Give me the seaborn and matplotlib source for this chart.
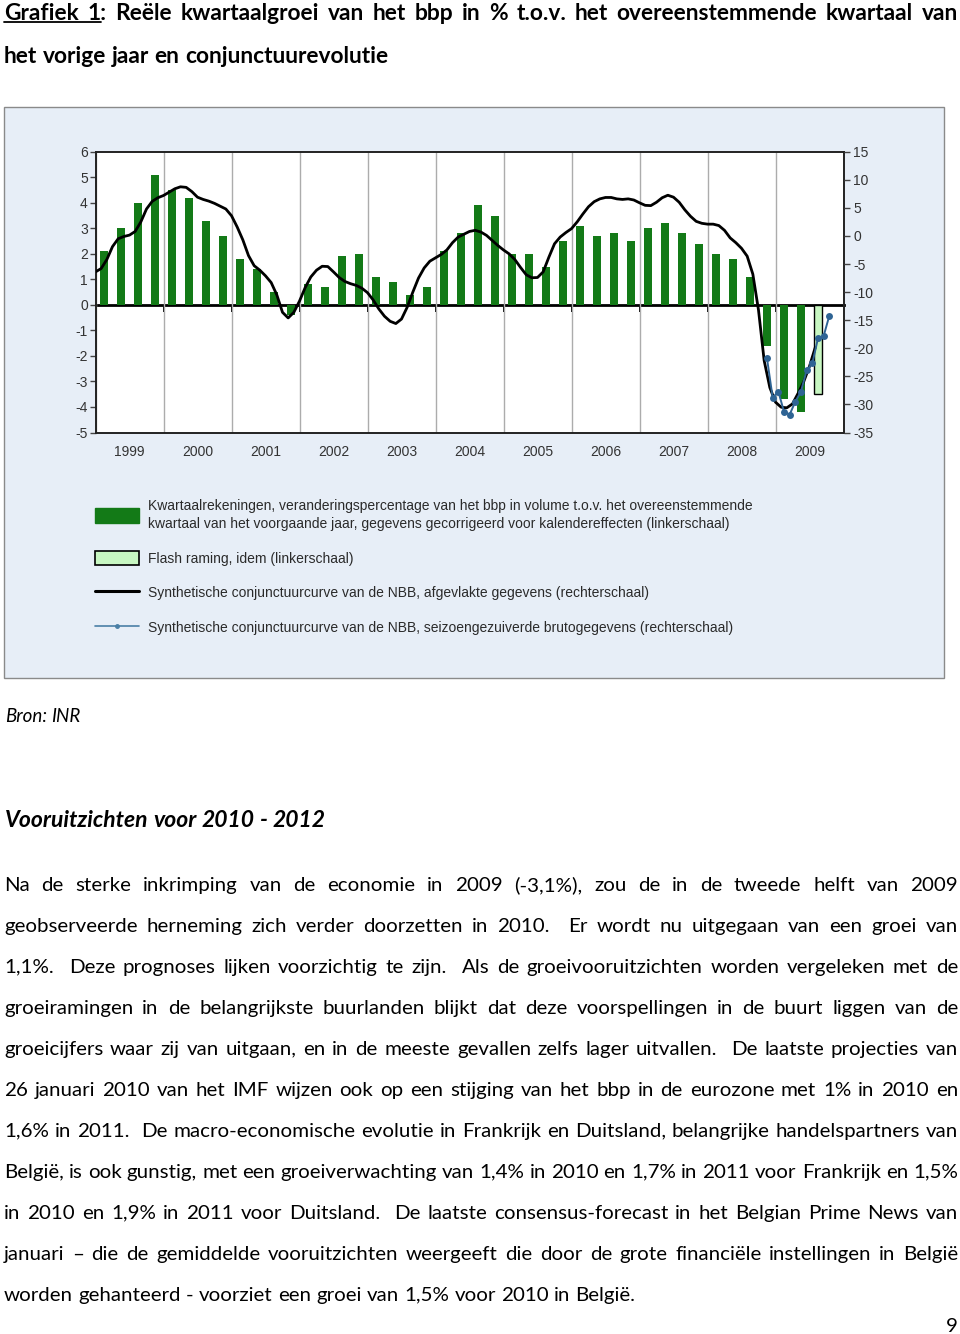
import re
import numpy as np
import pandas as pd
import matplotlib
matplotlib.use("Agg")
import matplotlib.pyplot as plt
import seaborn as sns
from matplotlib.patches import Rectangle, Patch
from matplotlib.lines import Line2D

# ---------------- data ----------------
first_year = 1999
year_labels = [str(y) for y in range(1999, 2010)]
# Kwartaalrekeningen, % y/y (linkerschaal), 1999Q1 .. 2009Q2
gdp_growth = [2.1, 3.0, 4.0, 5.1,
              4.5, 4.2, 3.3, 2.7,
              1.8, 1.4, 0.5, -0.4,
              0.8, 0.7, 1.9, 2.0,
              1.1, 0.9, 0.4, 0.7,
              2.1, 2.8, 3.9, 3.5,
              2.0, 2.0, 1.5, 2.5,
              3.1, 2.7, 2.8, 2.5,
              3.0, 3.2, 2.8, 2.4,
              2.0, 1.8, 1.1, -1.6,
              -3.7, -4.2]
# Flash raming 2009Q3
flash_growth = [-3.5]
# Synthetische conjunctuurcurve, afgevlakt (rechterschaal), monthly from Jan 1999
smooth_curve = [-6.4, -5.8, -4.2, -1.9, -0.5, -0.1, 0.15, 0.8, 2.5, 4.8, 6.15, 6.8,
                7.2, 7.8, 8.4, 8.75, 8.65, 7.9, 6.9, 6.5, 6.2, 5.8, 5.3, 4.8,
                3.6, 1.6, -0.7, -3.5, -5.3, -6.1, -7.1, -8.3, -10.5, -13.6, -14.6, -13.6,
                -11.6, -9.2, -7.3, -6.1, -5.4, -5.45, -6.4, -7.4, -8.1, -8.5, -8.8, -9.3,
                -10.1, -11.4, -13.0, -14.3, -15.2, -15.6, -14.8, -12.7, -10.0, -7.5, -5.7, -4.5,
                -3.9, -3.3, -2.5, -1.2, -0.2, 0.3, 0.8, 1.0, 0.7, 0.1, -0.8, -1.7,
                -2.5, -3.2, -4.2, -5.6, -6.9, -7.45, -7.4, -6.4, -3.8, -1.4, -0.2, 0.6,
                1.3, 2.5, 3.9, 5.2, 6.1, 6.6, 6.85, 6.85, 6.6, 6.5, 6.6, 6.4,
                5.9, 5.45, 5.4, 6.0, 6.8, 7.25, 6.9, 6.0, 4.65, 3.5, 2.6, 2.25,
                2.1, 2.1, 1.85, 1.0, -0.35, -1.2, -2.2, -3.6, -6.8, -13.2, -22.2, -27.0,
                -29.6, -30.5, -30.6, -29.9, -28.0, -25.9, -23.2, -19.9]
# Synthetische conjunctuurcurve, seizoengezuiverde brutogegevens, Nov 2008 .. Oct 2009
raw_curve = [-21.8, -28.8, -27.7, -31.3, -31.8, -29.5, -27.7, -23.9, -22.7, -18.2, -17.8, -14.2]
raw_start_month = 10  # November 2008 (0 = January)

legend_labels = [
    "Kwartaalrekeningen, veranderingspercentage van het bbp in volume t.o.v. het overeenstemmende\n"
    "kwartaal van het voorgaande jaar, gegevens gecorrigeerd voor kalendereffecten (linkerschaal)",
    "Flash raming, idem (linkerschaal)",
    "Synthetische conjunctuurcurve van de NBB, afgevlakte gegevens (rechterschaal)",
    "Synthetische conjunctuurcurve van de NBB, seizoengezuiverde brutogegevens (rechterschaal)",
]

title_lines = ["Grafiek 1: Reële kwartaalgroei van het bbp in % t.o.v. het overeenstemmende kwartaal van",
               "het vorige jaar en conjunctuurevolutie"]
source_text = "Bron: INR"
section_title = "Vooruitzichten voor 2010 - 2012"
body_lines = [
    "Na de sterke inkrimping van de economie in 2009 (-3,1%), zou de in de tweede helft van 2009",
    "geobserveerde herneming zich verder doorzetten in 2010.  Er wordt nu uitgegaan van een groei van",
    "1,1%.  Deze prognoses lijken voorzichtig te zijn.  Als de groeivooruitzichten worden vergeleken met de",
    "groeiramingen in de belangrijkste buurlanden blijkt dat deze voorspellingen in de buurt liggen van de",
    "groeicijfers waar zij van uitgaan, en in de meeste gevallen zelfs lager uitvallen.  De laatste projecties van",
    "26 januari 2010 van het IMF wijzen ook op een stijging van het bbp in de eurozone met 1% in 2010 en",
    "1,6% in 2011.  De macro-economische evolutie in Frankrijk en Duitsland, belangrijke handelspartners van",
    "België, is ook gunstig, met een groeiverwachting van 1,4% in 2010 en 1,7% in 2011 voor Frankrijk en 1,5%",
    "in 2010 en 1,9% in 2011 voor Duitsland.  De laatste consensus-forecast in het Belgian Prime News van",
    "januari – die de gemiddelde vooruitzichten weergeeft die door de grote financiële instellingen in België",
    "worden gehanteerd - voorziet een groei van 1,5% voor 2010 in België.",
]
page_number = "9"

# ---------------- style ----------------
sns.set_theme(style="ticks")
plt.rcParams["font.family"] = ["Liberation Sans", "DejaVu Sans"]
plt.rcParams["axes.unicode_minus"] = False

W, H = 960, 1334
fig = plt.figure(figsize=(W / 100, H / 100), dpi=100)
fig.patch.set_facecolor("white")


def fx(x):
    return x / W


def fy(y):
    return 1 - y / H


renderer = fig.canvas.get_renderer()
PAGE_FONT = ["Lato", "DejaVu Sans"]


def measure(s, size, **kw):
    t = fig.text(0, 0, s, fontsize=size, family=PAGE_FONT, **kw)
    w = t.get_window_extent(renderer).width
    t.remove()
    return w


def place_line(line, y, x0, x1, size, justify=True, **kw):
    parts = re.split(r"( +)", line)
    words = parts[0::2]
    gaps = [len(s) for s in parts[1::2]]
    objs = [fig.text(fx(x0), fy(y), w, fontsize=size, family=PAGE_FONT,
                     va="baseline", ha="left", color="black", **kw) for w in words]
    ws = [o.get_window_extent(renderer).width for o in objs]
    if justify and gaps:
        unit = (x1 - x0 - sum(ws)) / sum(gaps)
    else:
        unit = measure("n n", size, **kw) - measure("nn", size, **kw)
    x = x0
    pos = []
    for i, o in enumerate(objs):
        o.set_x(fx(x))
        pos.append(x)
        x += ws[i] + (unit * gaps[i] if i < len(gaps) else 0)
    return objs, pos, ws


# ---------------- page text ----------------
title_size = 15 * 388 / measure(title_lines[1], 15, weight="bold")
objs, pos, ws = place_line(title_lines[0], 19.5, 4, 958, title_size, True, weight="bold")
w1 = measure("1", title_size, weight="bold")
fig.add_artist(Line2D([fx(pos[0]), fx(pos[1] + w1)], [fy(22.3), fy(22.3)],
                      transform=fig.transFigure, color="black", lw=1.3))
place_line(title_lines[1], 62.7, 4, 958, title_size, False, weight="bold")

body_size = 14 * 633 / measure(body_lines[-1], 14)
src_size = 14 * 76 / measure(source_text, 14, style="italic")
place_line(source_text, 722.3, 5, 958, src_size, False, style="italic")
sec_size = 16 * 321 / measure(section_title, 16, weight="bold", style="italic")
place_line(section_title, 826.7, 5, 958, sec_size, False, weight="bold", style="italic")
for i, ln in enumerate(body_lines):
    place_line(ln, 890.7 + 41 * i, 4, 958, body_size, i < len(body_lines) - 1)
fig.text(fx(958), fy(1331.5), page_number, fontsize=body_size, family=PAGE_FONT,
         ha="right", va="baseline", color="black")

# ---------------- chart panel ----------------
fig.add_artist(Rectangle((fx(4), fy(678)), (944 - 4) / W, (678 - 107) / H,
                         transform=fig.transFigure, facecolor="#e7eef7",
                         edgecolor="#8a8a8a", lw=1.0, zorder=-5))

ax = fig.add_axes([fx(95.5), fy(432.5), (843.5 - 95.5) / W, (432.5 - 151.7) / H])
ax.set_facecolor("white")

n = len(gdp_growth)
bar_df = pd.DataFrame({
    "pos": list(first_year + (np.arange(n) + 0.5) / 4)
           + list(first_year + (n + np.arange(len(flash_growth)) + 0.5) / 4),
    "value": gdp_growth + flash_growth,
    "kind": ["kwartaal"] * n + ["flash"] * len(flash_growth),
})
GREEN = "#137a17"
FLASH = "#c8f7c2"
sns.barplot(data=bar_df, x="pos", y="value", hue="kind", native_scale=True,
            palette={"kwartaal": GREEN, "flash": FLASH}, dodge=False, width=0.43,
            errorbar=None, saturation=1, legend=False, linewidth=0, ax=ax, zorder=2)
for cont in ax.containers:
    for p in cont.patches:
        if np.isclose(p.get_x() + p.get_width() / 2, bar_df["pos"].iloc[-1]):
            p.set_edgecolor("black")
            p.set_linewidth(1.0)

TICK_FS = 10
ax.set_xlim(1999, 2010)
ax.set_ylim(-5, 6)
ax.set_yticks(range(-5, 7))
ax.set_xticks(np.arange(1999, 2011))
ax.set_xticklabels([])
ax.set_xticks(np.arange(1999.5, 2010, 1), minor=True)
ax.set_xticklabels(year_labels, minor=True)
ax.tick_params(axis="x", which="both", length=0, labelsize=TICK_FS, labelcolor="#333333")
ax.tick_params(axis="x", which="minor", pad=9)
ax.tick_params(axis="y", direction="out", length=4, width=1, pad=1.5, labelsize=TICK_FS,
               labelcolor="#333333", left=True, color="#444444")
ax.grid(axis="x", which="major", color="#acacac", lw=1)
ax.grid(axis="y", visible=False)
ax.set_axisbelow(True)
ax.set_xlabel("")
ax.set_ylabel("")
for s in ax.spines.values():
    s.set_visible(True)
    s.set_color("#222222")
    s.set_linewidth(1.4)

# zero line with year-boundary ticks
zero = ax.secondary_xaxis(5 / 11)
zero.set_xticks(np.arange(2000, 2010))
zero.tick_params(axis="x", direction="out", length=5, width=1.4, labelbottom=False,
                 labeltop=False, bottom=True, top=False, color="black")
for k, s in zero.spines.items():
    s.set_linewidth(2)
    s.set_color("black")

ax2 = ax.twinx()
smooth_pos = first_year + np.arange(len(smooth_curve)) / 12
raw_pos = 2008 + (raw_start_month + np.arange(len(raw_curve)) + 0.5) / 12
BLUE = "#2f6494"
sns.lineplot(x=smooth_pos, y=smooth_curve, ax=ax2, color="black", linewidth=2.0)
sns.lineplot(x=raw_pos, y=raw_curve, ax=ax2, color=BLUE, linewidth=1.4, marker="o",
             markersize=5, markeredgewidth=0)
ax2.set_ylim(-35, 15)
ax2.set_yticks(range(-35, 20, 5))
ax2.set_xlim(1999, 2010)
ax2.set_ylabel("")
ax2.tick_params(axis="y", direction="out", length=4, width=1, pad=3, labelsize=TICK_FS,
                labelcolor="#333333", right=True, left=False, color="#444444")
for s in ax2.spines.values():
    s.set_visible(False)

# legend
handles = [Patch(facecolor=GREEN, edgecolor=GREEN),
           Patch(facecolor=FLASH, edgecolor="black", lw=1.2),
           Line2D([], [], color="black", lw=2.2),
           Line2D([], [], color="#4a7fa6", lw=1.2, marker="o", markersize=2.5)]
leg = fig.legend(handles, legend_labels, loc="upper left", bbox_to_anchor=(fx(95), fy(499)),
                 frameon=False, fontsize=10, handlelength=3.2, handleheight=1.25,
                 handletextpad=0.65, labelspacing=1.42, borderpad=0, borderaxespad=0,
                 labelcolor="#2a2a2a")
for t in leg.get_texts():
    t.set_linespacing(1.35)

fig.savefig("out.png", dpi=100)
